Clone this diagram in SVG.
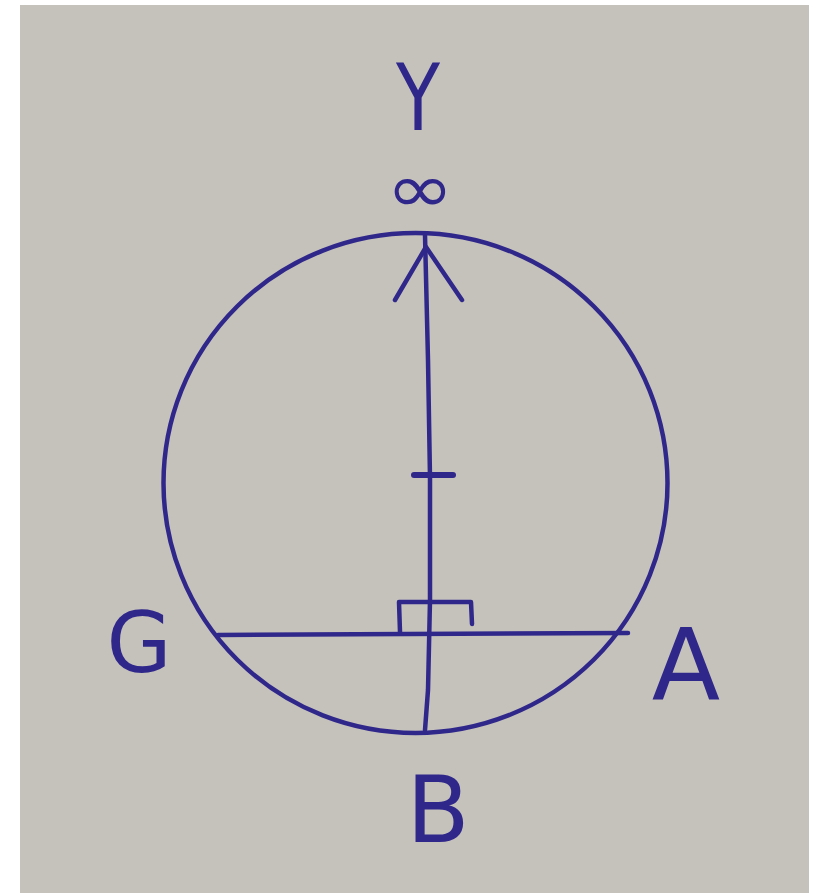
<svg xmlns="http://www.w3.org/2000/svg" width="821" height="893" viewBox="0 0 821 893">
<style>
.ink{fill:none;stroke:#30278a;stroke-width:4.5;stroke-linecap:round;stroke-linejoin:round}
.lbl{fill:#30278a;font-family:"DejaVu Sans",sans-serif}
</style>
<rect x="0" y="0" width="821" height="893" fill="#ffffff"/>
<rect x="20" y="5" width="789" height="888" fill="#c5c2bc"/>
<g id="circle"><ellipse class="ink" cx="415.5" cy="483" rx="252" ry="250"/></g>
<g id="connectors">
<path class="ink" d="M425,235 L428,360 L430,478 L430,600 L428,690 L425,730"/>
<path class="ink" d="M395,300 L426,247 L462,300"/>
<path class="ink" d="M218,635 L628,633"/>
<path class="ink" d="M400,632 L399,602 L471,602 L472,624"/>
<path class="ink" d="M414,475 L453,475" style="stroke-width:6"/>
</g>
<g id="Y"><text class="lbl" x="418" y="130" font-size="92" text-anchor="middle" textLength="44" lengthAdjust="spacingAndGlyphs">Y</text></g>
<g id="inf"><text class="lbl" x="420" y="212" font-size="68" text-anchor="middle" textLength="68" lengthAdjust="spacingAndGlyphs">∞</text></g>
<g id="G"><text class="lbl" x="139" y="672" font-size="84" text-anchor="middle">G</text></g>
<g id="A"><text class="lbl" x="686" y="700" font-size="100" text-anchor="middle">A</text></g>
<g id="B"><text class="lbl" x="438" y="842" font-size="92" text-anchor="middle">B</text></g>
</svg>
